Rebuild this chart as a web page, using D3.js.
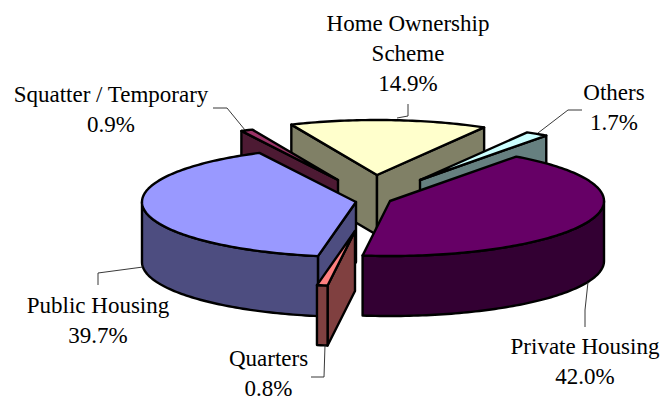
<!DOCTYPE html>
<html><head><meta charset="utf-8">
<script src="https://cdnjs.cloudflare.com/ajax/libs/d3/7.8.5/d3.min.js"></script>
<style>html,body{margin:0;padding:0;background:#fff}svg{display:block}text{font-family:"Liberation Serif",serif;font-size:23px;fill:#000;text-anchor:middle}</style>
</head><body><svg width="664" height="401"></svg>
<script>
// Data, clockwise from the start angle
const categories = ["Home Ownership Scheme","Others","Private Housing","Quarters","Public Housing","Squatter / Temporary"];
const shares = [14.9,1.7,42.0,0.8,39.7,0.9];
const labelLines = [["Home Ownership","Scheme","14.9%"],["Others","1.7%"],["Private Housing","42.0%"],["Quarters","0.8%"],["Public Housing","39.7%"],["Squatter / Temporary","0.9%"]];

// Styles and layout
const topColours = ["#FFFFCC","#CCFFFF","#660066","#FF8080","#9999FF","#993366"];
const sideColours = ["#808066","#668080","#330033","#804040","#4D4D80","#4D1A33"];
const apexes = [[377,175],[420,180],[390,201],[355,231],[356,202],[338,180]];
const labelPos = [[408,31],[614,100],[585,354],[268.5,366],[98,313],[111,102]];
const leaders = [[[408,104],[408,116],[397,118]],[[582,110],[568,110],[538,133]],[[588,282],[585,310],[585,327]],[[325,345],[324,377],[311,377]],[[143,267],[98,273],[98,285]],[[213,108],[227,108],[245,130]]];
const drawOrder = [0,5,1,2,4,3];
const rx = 214, ry = 55, depth = 60;

const svg = d3.select("svg");
const pie = d3.pie().sort(null).value(d=>d).startAngle(-23.6*Math.PI/180).endAngle((360-23.6)*Math.PI/180);
const arcs = pie(shares);
const sx = d3.scaleLinear().domain([-1,1]).range([-rx,rx]);
const sy = d3.scaleLinear().domain([-1,1]).range([-ry,ry]);
const rim = (c,a,dy=0)=>[c[0]+sx(Math.sin(a)),c[1]-sy(Math.cos(a))+dy];
const samples = (a0,a1)=>{const n=Math.max(2,Math.ceil((a1-a0)/0.02));return d3.range(n+1).map(i=>a0+(a1-a0)*i/n);};
const line = d3.line();
const stroke = g=>g.attr("stroke","#000").attr("stroke-width",2.4).attr("stroke-linejoin","round");

drawOrder.forEach(i=>{
  const d=arcs[i], c=apexes[i], g=svg.append("g");
  const c2=[c[0],c[1]+depth];
  const face=(a,fill)=>g.append("path").attr("d",line([c,rim(c,a),rim(c,a,depth),c2])+"Z").attr("fill",fill).call(stroke);
  if(Math.sin(d.startAngle)<0) face(d.startAngle,sideColours[i]);
  if(Math.sin(d.endAngle)>0) face(d.endAngle,sideColours[i]);
  const lo=Math.max(d.startAngle,Math.PI/2), hi=Math.min(d.endAngle,3*Math.PI/2);
  if(hi>lo){
    const s=samples(lo,hi);
    g.append("path").attr("d",line(s.map(a=>rim(c,a)).concat(s.slice().reverse().map(a=>rim(c,a,depth))))+"Z").attr("fill",sideColours[i]).call(stroke);
  }
  g.append("path").attr("d",line([c].concat(samples(d.startAngle,d.endAngle).map(a=>rim(c,a))))+"Z").attr("fill",topColours[i]).call(stroke);
});

leaders.forEach(p=>svg.append("path").attr("d",line(p)).attr("fill","none").attr("stroke","#222").attr("stroke-width",0.9));
labelLines.forEach((ls,i)=>{
  const t=svg.append("text").attr("aria-label",categories[i]);
  ls.forEach((s,j)=>t.append("tspan").attr("x",labelPos[i][0]).attr("y",labelPos[i][1]+j*30).text(s));
});
</script></body></html>
